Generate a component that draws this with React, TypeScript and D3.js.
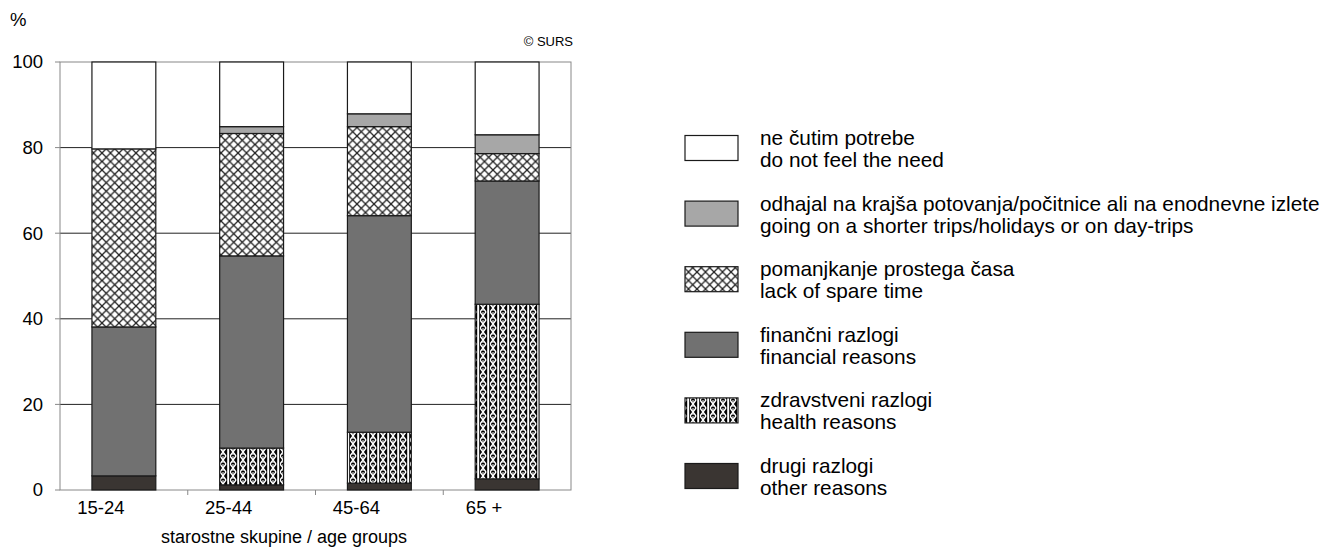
import * as d3 from 'd3';

const ageGroups = ['15-24', '25-44', '45-64', '65 +'];

// shares in %, stacked bottom -> top
const otherReasons = [3.3, 1.2, 1.6, 2.6];
const healthReasons = [0, 8.6, 11.9, 40.8];
const financialReasons = [34.8, 44.9, 50.6, 28.8];
const lackOfSpareTime = [41.6, 28.6, 20.8, 6.4];
const shorterTrips = [0, 1.6, 3.0, 4.4];
const noNeed = [20.3, 15.1, 12.1, 17.0];

const yTicks = [0, 20, 40, 60, 80, 100];

type Series = { key: string; sl: string; en: string; values: number[]; fill: string };

const series: Series[] = [
  { key: 'other', sl: 'drugi razlogi', en: 'other reasons', values: otherReasons, fill: '#3a3532' },
  { key: 'health', sl: 'zdravstveni razlogi', en: 'health reasons', values: healthReasons, fill: 'url(#healthPat)' },
  { key: 'financial', sl: 'finančni razlogi', en: 'financial reasons', values: financialReasons, fill: '#717171' },
  { key: 'spare', sl: 'pomanjkanje prostega časa', en: 'lack of spare time', values: lackOfSpareTime, fill: 'url(#crossPat)' },
  {
    key: 'trips',
    sl: 'odhajal na krajša potovanja/počitnice ali na enodnevne izlete',
    en: 'going on a shorter trips/holidays or on day-trips',
    values: shorterTrips,
    fill: '#a7a7a7',
  },
  { key: 'need', sl: 'ne čutim potrebe', en: 'do not feel the need', values: noNeed, fill: '#ffffff' },
];

const W = 1338;
const H = 552;
const plot = { left: 60, right: 571, top: 62, bottom: 490 };
const font = '"Liberation Sans", Arial, sans-serif';

export default function App() {
  const x = d3.scaleBand().domain(ageGroups).range([plot.left, plot.right]).paddingInner(0.5).paddingOuter(0.25);
  const band = d3.scaleBand().domain(ageGroups).range([plot.left, plot.right]);
  const y = d3.scaleLinear().domain([0, 100]).range([plot.bottom, plot.top]);

  const table = ageGroups.map((g, i) => {
    const row: Record<string, number | string> = { group: g };
    series.forEach((s) => (row[s.key] = s.values[i]));
    return row;
  });
  const stacked = d3.stack<Record<string, number | string>>().keys(series.map((s) => s.key))(table as any);

  // legend listed top -> bottom in reverse stack order
  const legendItems = [...series].reverse();
  const legendY = d3.scalePoint().domain(legendItems.map((s) => s.key)).range([148, 476]);

  return (
    <svg width={W} height={H} style={{ position: 'absolute', left: 0, top: 0, background: '#fff' }} fontFamily={font}>
      <defs>
        <pattern id="crossPat" width={8.5} height={8.5} patternUnits="userSpaceOnUse">
          <rect width={8.5} height={8.5} fill="#fff" />
          <path d="M0,0L8.5,8.5M8.5,0L0,8.5" stroke="#222" strokeWidth={1.3} />
        </pattern>
        <pattern id="healthPat" width={10} height={8} patternUnits="userSpaceOnUse">
          <rect width={10} height={8} fill="#000" />
          <path d="M0,0L6,8M6,0L0,8" stroke="#fff" strokeWidth={1.4} />
          <path d="M3,0V8" stroke="#fff" strokeWidth={1} strokeDasharray="3,1" />
          <path d="M8.2,0V8" stroke="#fff" strokeWidth={2} />
        </pattern>
      </defs>

      {/* gridlines */}
      {yTicks.slice(1, -1).map((t) => (
        <line key={t} x1={plot.left} x2={plot.right} y1={y(t)} y2={y(t)} stroke="#222" strokeWidth={1} />
      ))}
      {/* plot frame */}
      <rect
        x={plot.left}
        y={plot.top}
        width={plot.right - plot.left}
        height={plot.bottom - plot.top}
        fill="none"
        stroke="#888"
        strokeWidth={1}
      />

      {/* bars */}
      {stacked.map((layer, li) => (
        <g key={layer.key}>
          {layer.map((d, i) =>
            d[1] - d[0] <= 0 ? null : (
              <rect
                key={i}
                x={x(ageGroups[i])}
                width={x.bandwidth()}
                y={y(d[1])}
                height={y(d[0]) - y(d[1])}
                fill={series[li].fill}
                stroke="#1a1a1a"
                strokeWidth={1.2}
              />
            )
          )}
        </g>
      ))}

      {/* y axis ticks & labels */}
      {yTicks.map((t) => (
        <g key={t}>
          <line x1={plot.left - 5} x2={plot.left} y1={y(t)} y2={y(t)} stroke="#888" />
          <text x={43} y={y(t)} dy="0.35em" textAnchor="end" fontSize={18.5}>
            {t}
          </text>
        </g>
      ))}
      <text x={10} y={26} fontSize={18.5}>
        %
      </text>
      <text x={573} y={46} textAnchor="end" fontSize={13}>
        © SURS
      </text>

      {/* x axis ticks & labels */}
      {ageGroups.map((g, i) => (
        <g key={g}>
          {i > 0 && (
            <line
              x1={band(g)}
              x2={band(g)}
              y1={plot.bottom}
              y2={plot.bottom + 5}
              stroke="#888"
            />
          )}
          <text x={band(g)! + band.bandwidth() / 2 - 23} y={514} textAnchor="middle" fontSize={18.5}>
            {g}
          </text>
        </g>
      ))}
      <text x={284} y={543} textAnchor="middle" fontSize={18}>
        starostne skupine / age groups
      </text>

      {/* legend */}
      {legendItems.map((s) => {
        const cy = legendY(s.key)!;
        return (
          <g key={s.key}>
            <rect x={685} y={cy - 12.5} width={53} height={25} fill={s.fill} stroke="#1a1a1a" strokeWidth={1.2} />
            <text x={760} y={cy - 3} fontSize={20.8}>
              {s.sl}
            </text>
            <text x={760} y={cy + 19} fontSize={20.8}>
              {s.en}
            </text>
          </g>
        );
      })}
    </svg>
  );
}
